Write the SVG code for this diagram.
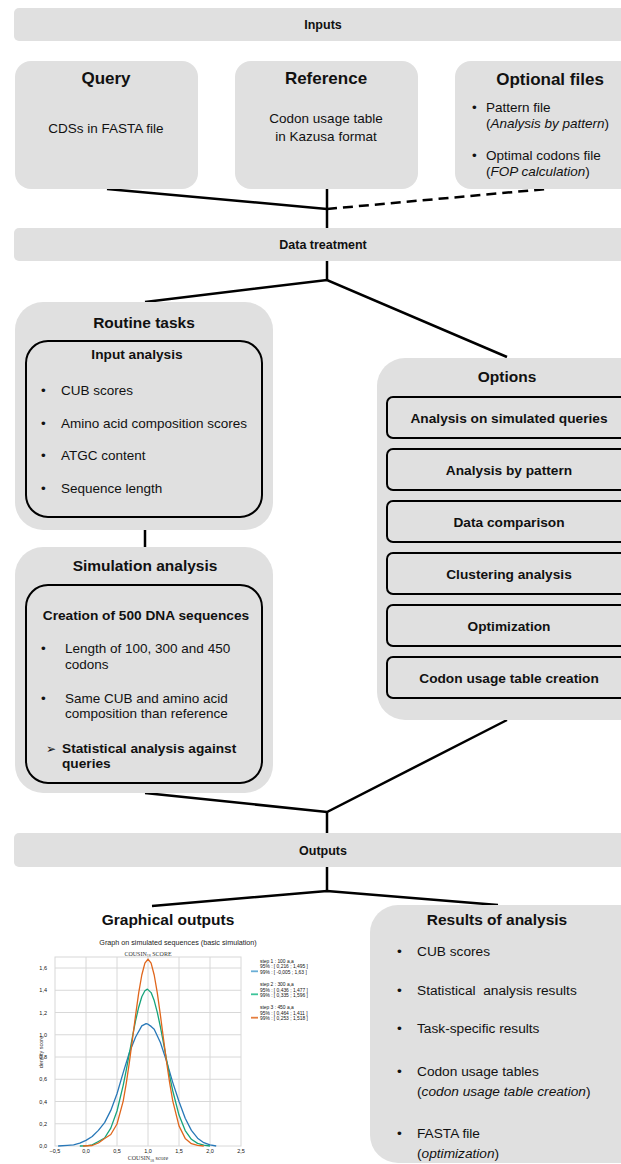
<svg xmlns="http://www.w3.org/2000/svg" width="621" height="1164" viewBox="0 0 621 1164">
<style>
text{font-family:"Liberation Sans",Arial,sans-serif;fill:#111}
.bar{fill:#e0e0e0}
.box{fill:#e0e0e0}
.inner{fill:#e0e0e0;stroke:#000;stroke-width:2}
.bt{font-size:12.5px;font-weight:bold;text-anchor:middle}
.t1{font-size:17px;font-weight:bold;text-anchor:middle}
.t2{font-size:15.5px;font-weight:bold;text-anchor:middle}
.t3{font-size:13.7px;font-weight:bold}
.b{font-size:13.5px}
.c{text-anchor:middle}
.it{font-style:italic}
.con{stroke:#000;stroke-width:2.5;fill:none}
.grid{stroke:#d8d8d8;stroke-width:1;fill:none}
.tk{font-size:5.5px;fill:#333}
.lg{font-size:4.9px;fill:#333}
.sf{font-family:"Liberation Serif",serif;fill:#333}
.crv{fill:none;stroke-width:1.3;stroke-linejoin:round}
</style>
<g id="connectors">
<line class="con" x1="107" y1="189" x2="327" y2="209"/>
<line class="con" x1="327" y1="189" x2="327" y2="229"/>
<line class="con" x1="327" y1="209" x2="547" y2="189" stroke-dasharray="10 6"/>
<line class="con" x1="327" y1="260" x2="327" y2="280"/>
<polyline class="con" points="145,302 327,280 507,357"/>
<line class="con" x1="145" y1="529" x2="145" y2="548"/>
<polyline class="con" points="145,793 327,812 507,720"/>
<line class="con" x1="327" y1="812" x2="327" y2="834"/>
<line class="con" x1="327" y1="866" x2="327" y2="891"/>
<polyline class="con" points="152,906 327,891 498,905"/>
</g>
<g id="inputs">
<rect class="bar" x="14" y="8" width="640" height="33" rx="5"/>
<text class="bt" x="323" y="29">Inputs</text>
</g>
<g id="query">
<rect class="box" x="15" y="61" width="183" height="128" rx="16"/>
<text class="t1" x="106" y="84">Query</text>
<text class="b c" x="106" y="133">CDSs in FASTA file</text>
</g>
<g id="reference">
<rect class="box" x="235" y="61" width="183" height="128" rx="16"/>
<text class="t1" x="326" y="84">Reference</text>
<text class="b c" x="326" y="123">Codon usage table</text>
<text class="b c" x="326" y="141">in Kazusa format</text>
</g>
<g id="optional-files">
<rect class="box" x="455" y="61" width="200" height="128" rx="16"/>
<text class="t1" x="550" y="85">Optional files</text>
<text class="b" x="472" y="112">•</text>
<text class="b" x="486" y="112">Pattern file</text>
<text class="b" x="486" y="128">(<tspan class="it">Analysis by pattern</tspan>)</text>
<text class="b" x="472" y="160">•</text>
<text class="b" x="486" y="160">Optimal codons file</text>
<text class="b" x="486" y="176">(<tspan class="it">FOP calculation</tspan>)</text>
</g>
<g id="data-treatment">
<rect class="bar" x="14" y="228" width="640" height="33" rx="5"/>
<text class="bt" x="323" y="249">Data treatment</text>
</g>
<g id="routine-tasks">
<rect class="box" x="15" y="302" width="258" height="228" rx="28"/>
<text class="t2" x="144" y="328">Routine tasks</text>
<g id="input-analysis">
<rect class="inner" x="26" y="341" width="236" height="176" rx="22"/>
<text class="t3 c" x="137" y="359">Input analysis</text>
<text class="b" x="41" y="395">•</text><text class="b" x="61" y="395">CUB scores</text>
<text class="b" x="41" y="428">•</text><text class="b" x="61" y="428">Amino acid composition scores</text>
<text class="b" x="41" y="460">•</text><text class="b" x="61" y="460">ATGC content</text>
<text class="b" x="41" y="493">•</text><text class="b" x="61" y="493">Sequence length</text>
</g>
</g>
<g id="simulation-analysis">
<rect class="box" x="15" y="547" width="258" height="246" rx="28"/>
<text class="t2" x="145" y="571">Simulation analysis</text>
<g id="creation">
<rect class="inner" x="26" y="585" width="236" height="198" rx="22"/>
<text class="t3 c" x="146" y="620">Creation of 500 DNA sequences</text>
<text class="b" x="41" y="653">•</text><text class="b" x="65" y="653">Length of 100, 300 and 450</text>
<text class="b" x="65" y="669">codons</text>
<text class="b" x="41" y="703">•</text><text class="b" x="65" y="703">Same CUB and amino acid</text>
<text class="b" x="65" y="718">composition than reference</text>
<text x="46" y="753" style="font-family:'DejaVu Sans',sans-serif;font-size:12px">➢</text>
<text class="t3" x="62" y="753">Statistical analysis against</text>
<text class="t3" x="62" y="768">queries</text>
</g>
</g>
<g id="options">
<rect class="box" x="377" y="358" width="270" height="362" rx="28"/>
<text class="t2" x="507" y="382">Options</text>
<g id="opt-1"><rect class="inner" x="387" y="397" width="260" height="41" rx="6"/><text class="t3 c" x="509" y="423">Analysis on simulated queries</text></g>
<g id="opt-2"><rect class="inner" x="387" y="449" width="260" height="41" rx="6"/><text class="t3 c" x="509" y="475">Analysis by pattern</text></g>
<g id="opt-3"><rect class="inner" x="387" y="501" width="260" height="41" rx="6"/><text class="t3 c" x="509" y="527">Data comparison</text></g>
<g id="opt-4"><rect class="inner" x="387" y="553" width="260" height="41" rx="6"/><text class="t3 c" x="509" y="579">Clustering analysis</text></g>
<g id="opt-5"><rect class="inner" x="387" y="605" width="260" height="41" rx="6"/><text class="t3 c" x="509" y="631">Optimization</text></g>
<g id="opt-6"><rect class="inner" x="387" y="657" width="260" height="41" rx="6"/><text class="t3 c" x="509" y="683">Codon usage table creation</text></g>
</g>
<g id="outputs">
<rect class="bar" x="14" y="833" width="640" height="34" rx="5"/>
<text class="bt" x="323" y="855">Outputs</text>
</g>
<g id="graphical-outputs">
<text class="t2" x="168" y="925">Graphical outputs</text>
<text x="178" y="945" style="font-size:7.2px;text-anchor:middle;fill:#222">Graph on simulated sequences (basic simulation)</text>
<text class="sf" x="148" y="955.5" style="font-size:6px;text-anchor:middle">COUSIN<tspan font-size="4px" dy="1.5">18</tspan><tspan dy="-1.5"> SCORE</tspan></text>
<rect x="55" y="957" width="186" height="189" fill="#fff" stroke="#d8d8d8"/>
<path class="grid" d="M86,957V1146M117,957V1146M148,957V1146M179,957V1146M210,957V1146M55,1123.75H241M55,1101.5H241M55,1079.25H241M55,1057H241M55,1034.75H241M55,1012.5H241M55,990.25H241M55,968H241"/>
<g class="tk" text-anchor="end">
<text x="47" y="1148">0,0</text><text x="47" y="1125.75">0,2</text><text x="47" y="1103.5">0,4</text><text x="47" y="1081.25">0,6</text><text x="47" y="1059">0,8</text><text x="47" y="1036.75">1,0</text><text x="47" y="1014.5">1,2</text><text x="47" y="992.25">1,4</text><text x="47" y="970">1,6</text>
</g>
<g class="tk" text-anchor="middle">
<text x="55" y="1153">−0,5</text><text x="86" y="1153">0,0</text><text x="117" y="1153">0,5</text><text x="148" y="1153">1,0</text><text x="179" y="1153">1,5</text><text x="210" y="1153">2,0</text><text x="241" y="1153">2,5</text>
</g>
<text class="sf" x="148" y="1160" style="font-size:6px;text-anchor:middle">COUSIN<tspan font-size="4px" dy="1.5">18</tspan><tspan dy="-1.5"> score</tspan></text>
<text class="tk" transform="translate(43,1052) rotate(-90)" text-anchor="middle">density score</text>
<polyline class="crv" stroke="#2878b8" points="58.1,1146 67.4,1145.4 73.6,1144.9 79.8,1143.2 86,1140.4 92.2,1136.5 98.4,1130.4 104.6,1122.6 110.8,1110.4 117,1093.7 123.2,1072.6 129.4,1052.5 135.6,1037 141.8,1025.9 146.1,1023.6 148,1024.2 151.1,1026.4 154.2,1029.2 160.4,1042.5 166.6,1061.4 172.8,1082.6 179,1101.5 185.2,1118.2 191.4,1130.4 197.6,1138.2 203.8,1142.7 210,1144.9 216.2,1146"/>
<polyline class="crv" stroke="#16a37b" points="79.8,1146 86,1145.8 92.2,1144.9 98.4,1141.5 104.6,1138 110.8,1128.1 117,1111 123.2,1085.3 126.3,1069.8 129.4,1053.2 132.5,1036.5 135.6,1020.7 138.7,1007.2 141.8,996.8 144.9,990.7 147.4,989.1 151.1,992.6 154.2,1000.6 157.3,1012.4 160.4,1026.8 163.5,1043.1 166.6,1059.9 169.7,1076.1 172.8,1091 179,1115.1 185.2,1130.6 191.4,1139.3 197.6,1143.4 203.8,1145.1 210,1146"/>
<polyline class="crv" stroke="#e0661c" points="83,1146 92.2,1145.5 98.4,1143 104.6,1138.5 110.8,1134.5 117,1124 123.2,1101.1 126.3,1083.2 129.4,1062.1 132.5,1038.9 135.6,1015.2 138.7,992.9 141.8,975 144.9,963.2 148,959.1 151.1,963.2 154.2,975 157.3,992.9 160.4,1015.2 163.5,1038.9 166.6,1062.1 169.7,1083.2 172.8,1101.1 179,1125.9 185.2,1138.4 191.4,1143.7 197.6,1145.3 203.8,1146"/>
<g class="lg">
<text x="260" y="962.5">step 1 : 100 a,a</text><text x="260" y="968">95% : [ 0,216 ; 1,495 ]</text><text x="260" y="973.5">99% : [ -0,005 ; 1,63 ]</text>
<text x="260" y="986">step 2 : 300 a,a</text><text x="260" y="991.5">95% : [ 0,436 ; 1,477 ]</text><text x="260" y="997">99% : [ 0,335 ; 1,596 ]</text>
<text x="260" y="1009">step 3 : 450 a,a</text><text x="260" y="1014.5">95% : [ 0,464 ; 1,411 ]</text><text x="260" y="1020">99% : [ 0,253 ; 1,518 ]</text>
</g>
<line x1="251" y1="971.3" x2="258" y2="971.3" stroke="#6aaed6" stroke-width="1.8"/>
<line x1="251" y1="994.3" x2="258" y2="994.3" stroke="#3cc49a" stroke-width="1.8"/>
<line x1="251" y1="1017.7" x2="258" y2="1017.7" stroke="#e57e3e" stroke-width="1.8"/>
</g>
<g id="results-of-analysis">
<rect class="box" x="370" y="905" width="280" height="258" rx="28"/>
<text class="t2" x="497" y="925">Results of analysis</text>
<g style="font-size:13.7px">
<text x="397" y="956">•</text><text x="417" y="956">CUB scores</text>
<text x="397" y="995">•</text><text x="417" y="995" xml:space="preserve">Statistical  analysis results</text>
<text x="397" y="1033">•</text><text x="417" y="1033">Task-specific results</text>
<text x="397" y="1076">•</text><text x="417" y="1076">Codon usage tables</text>
<text x="417" y="1096">(<tspan class="it">codon usage table creation</tspan>)</text>
<text x="397" y="1138">•</text><text x="417" y="1138">FASTA file</text>
<text x="417" y="1158">(<tspan class="it">optimization</tspan>)</text>
</g>
</g>
</svg>
